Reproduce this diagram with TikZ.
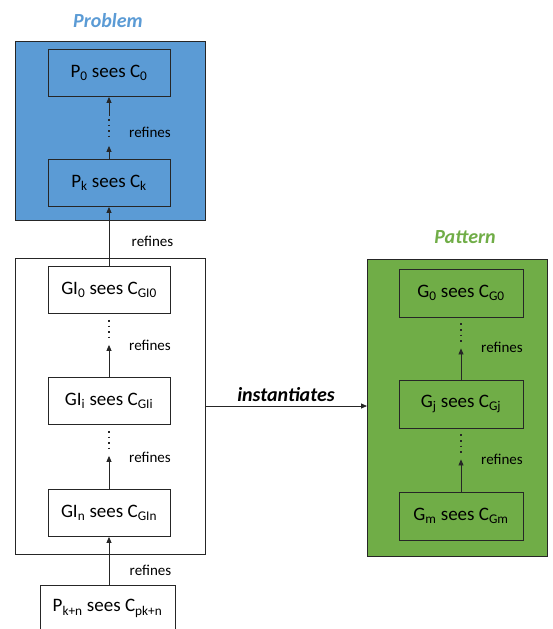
\documentclass[tikz,border=0pt]{standalone}
\usepackage{fontspec}
\setmainfont{Carlito}
\usetikzlibrary{arrows.meta,calc}

\definecolor{probblue}{RGB}{91,155,213}
\definecolor{pattgreen}{RGB}{112,173,71}

\newcommand{\ix}[1]{\textsubscript{#1}}

\tikzset{
  frame/.style={draw=black!85, inner sep=0pt, outer sep=0pt, line width=0.8pt},
  machine/.style={draw=black!85, inner sep=0pt, minimum width=122pt, minimum height=47pt,
    line width=0.8pt, font=\fontsize{19}{22}\selectfont},
  heading/.style={font=\fontsize{20}{24}\selectfont\bfseries\itshape},
  reflabel/.style={font=\fontsize{15}{18}\selectfont},
  ref/.style={-{Triangle[length=6pt,width=5pt]}, line width=0.8pt, draw=black!85},
  vdots/.style={line width=1.6pt, dash pattern=on 1.6pt off 4pt, draw=black!85},
}

\begin{document}
\begin{tikzpicture}[x=1pt, y=-1pt]

      \useasboundingbox (0,0) rectangle (552,629);
      \clip (0,0) rectangle (552,629);

      % Outer frames
      \node[frame, fill=probblue, minimum width=190pt, minimum height=179pt] (probframe) at (110,130.5) {};
      \node[frame, fill=white, minimum width=190pt, minimum height=296pt] (glueframe) at (110,406) {};
      \node[frame, fill=pattgreen, minimum width=180pt, minimum height=297pt] (pattframe) at (457,407.5) {};

      % Titles above the frames
      \node[heading, text=probblue] (probtitle) at (108,21) {Problem};
      \node[heading, text=pattgreen] (patttitle) at (465,237) {Pattern};

      % Problem machines
      \node[machine] (p0) at (109,73) {P\ix{0} sees C\ix{0}};
      \node[machine] (pk) at (109,183) {P\ix{k} sees C\ix{k}};

      % Glue machines
      \node[machine] (gi0) at (109,290) {GI\ix{0} sees C\ix{GI0}};
      \node[machine] (gii) at (109,401) {GI\ix{i} sees C\ix{GIi}};
      \node[machine] (gin) at (109,513) {GI\ix{n} sees C\ix{GIn}};

      % Pattern machines
      \node[machine, minimum width=124pt, minimum height=48pt] (g0) at (461,293) {G\ix{0} sees C\ix{G0}};
      \node[machine, minimum width=124pt, minimum height=48pt] (gj) at (461,404) {G\ix{j} sees C\ix{Gj}};
      \node[machine, minimum width=124pt, minimum height=48pt] (gm) at (461,516) {G\ix{m} sees C\ix{Gm}};

      % Concrete machine at the bottom
      \node[machine, minimum width=135pt] (pkn) at (107.5,608.5) {P\ix{k+n} sees C\ix{pk+n}};

      % Refinement chain of the problem
      \draw[ref] (pk.north) -- ($(p0.south)+(0,49)$);
      \draw[vdots] ($(p0.south)+(0,22)$) -- ($(p0.south)+(0,44)$);
      \draw[ref] ($(p0.south)+(0,19)$) -- (p0.south);
      \node[reflabel] (rp) at (150,132) {refines};

      % Refinement chains of glue and pattern
      \foreach \up/\low in {gi0/gii, gii/gin, g0/gj, gj/gm} {
          \draw[vdots] ($(\up.south)+(0,6)$) -- ($(\up.south)+(0,25)$);
          \draw[ref] (\low.north) -- ($(\up.south)+(0,31)$);
          \node[reflabel] at ($(\low.north)+(41,-32)$) {refines};
      }

      % Links between the frames
      \draw[ref] (gi0.north) -- (pk.south) node[reflabel, pos=0.42, right=19pt] (rtop) {refines};
      \draw[ref] (pkn.north -| gin.south) -- (gin.south) node[reflabel, pos=0.3, right=17pt] (rbot) {refines};
      \draw[ref] (glueframe.east) -- (glueframe.east -| pattframe.west)
          node[heading, midway, above=1pt] (inst) {instantiates};

\end{tikzpicture}
\end{document}
